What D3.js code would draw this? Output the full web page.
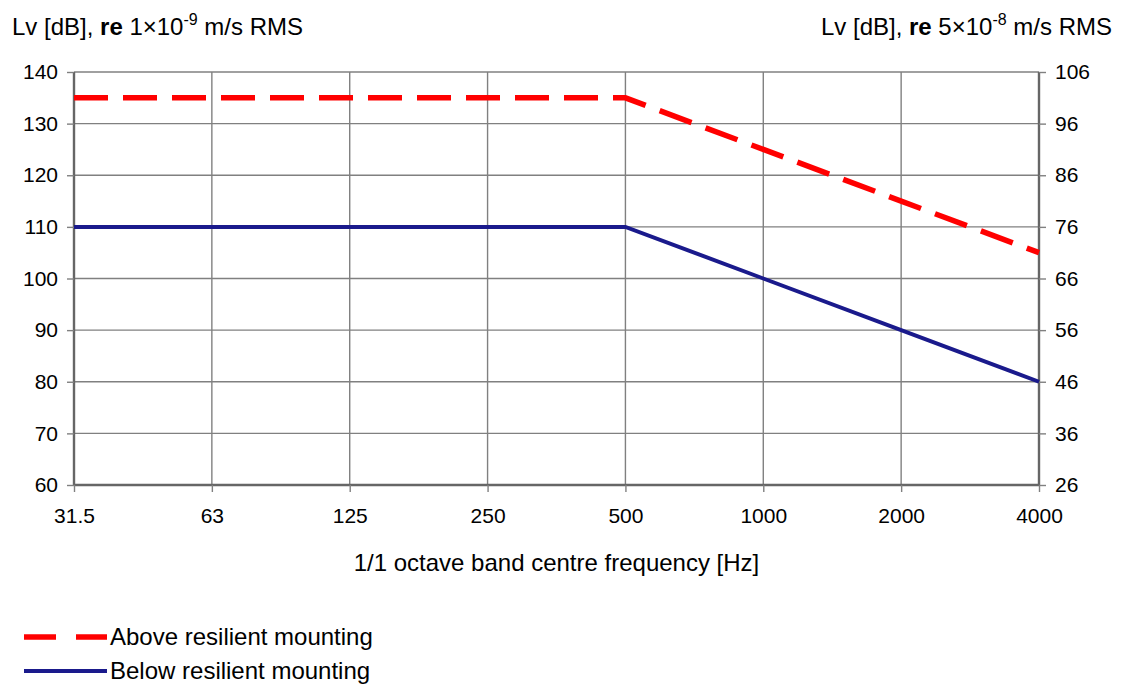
<!DOCTYPE html>
<html><head><meta charset="utf-8">
<script src="https://cdn.jsdelivr.net/npm/d3@7"></script>
<style>
body{margin:0;background:#fff;}
text{font-family:"Liberation Sans",Arial,sans-serif;fill:#000;}
</style></head>
<body><svg id="c" width="1128" height="689"></svg>
<script>
const categories = ["31.5","63","125","250","500","1000","2000","4000"];
const aboveValues = [135,135,135,135,135,125,115,105];
const belowValues = [110,110,110,110,110,100,90,80];
const leftTicks = [60,70,80,90,100,110,120,130,140];
const rightTicks = [26,36,46,56,66,76,86,96,106];
const seriesNames = ["Above resilient mounting","Below resilient mounting"];

const svg = d3.select("#c");
const L=74, R=1039, T=72, B=485;
const x = d3.scalePoint().domain(categories).range([L,R]);
const y = d3.scaleLinear().domain([60,140]).range([B,T]);
const y2 = d3.scaleLinear().domain([26,106]).range([B,T]);

// grid
svg.append("g").selectAll("line").data(leftTicks).join("line")
  .attr("x1",L).attr("x2",R).attr("y1",d=>y(d)).attr("y2",d=>y(d))
  .attr("stroke","#808080").attr("stroke-width",1.4);
svg.append("g").selectAll("line").data(categories).join("line")
  .attr("x1",d=>x(d)).attr("x2",d=>x(d)).attr("y1",T).attr("y2",B)
  .attr("stroke","#808080").attr("stroke-width",1.4);

// axes
const fs = "21px";
const ax = svg.append("g").attr("transform",`translate(${L},0)`)
  .call(d3.axisLeft(y).tickValues(leftTicks).tickSize(7).tickPadding(9));
const ax2 = svg.append("g").attr("transform",`translate(${R},0)`)
  .call(d3.axisRight(y2).tickValues(rightTicks).tickSize(7).tickPadding(9));
const axb = svg.append("g").attr("transform",`translate(0,${B})`)
  .call(d3.axisBottom(x).tickSize(7).tickPadding(16));
[ax,ax2,axb].forEach(g=>{
  g.selectAll("text").style("font-size",fs).attr("font-family","Liberation Sans, Arial, sans-serif");
  g.select(".domain").attr("stroke","#666").attr("stroke-width",2.4);
  g.selectAll(".tick line").attr("stroke","#808080").attr("stroke-width",1.4);
});
ax.select(".domain").attr("d",`M0,${T}V${B}`);
ax2.select(".domain").attr("d",`M0,${T}V${B}`);
axb.select(".domain").attr("d",`M${L},0H${R}`);

// lines
const line = d3.line().x((d,i)=>x(categories[i])).y(d=>y(d));
svg.append("path").datum(aboveValues).attr("d",line).attr("fill","none")
  .attr("stroke","#ff0000").attr("stroke-width",5.5).attr("stroke-dasharray","34,15");
svg.append("path").datum(belowValues).attr("d",line).attr("fill","none")
  .attr("stroke","#1a1a8c").attr("stroke-width",4);

// titles
const tfs = 24;
const t1 = svg.append("text").attr("x",12).attr("y",35).style("font-size",tfs+"px");
t1.append("tspan").text("Lv [dB], ");
t1.append("tspan").attr("font-weight","bold").text("re");
t1.append("tspan").text(" 1×10");
t1.append("tspan").attr("dy",-10).style("font-size","16px").text("-9");
t1.append("tspan").attr("dy",10).text(" m/s RMS");

const t2 = svg.append("text").attr("x",1112).attr("y",35).attr("text-anchor","end").style("font-size",tfs+"px");
t2.append("tspan").text("Lv [dB], ");
t2.append("tspan").attr("font-weight","bold").text("re");
t2.append("tspan").text(" 5×10");
t2.append("tspan").attr("dy",-10).style("font-size","16px").text("-8");
t2.append("tspan").attr("dy",10).text(" m/s RMS");

svg.append("text").attr("x",(L+R)/2).attr("y",571).attr("text-anchor","middle")
  .style("font-size",tfs+"px").text("1/1 octave band centre frequency [Hz]");

// legend
const lg = [{name:seriesNames[0],c:"#ff0000",w:5.5,dash:"32,20",y:637},
            {name:seriesNames[1],c:"#1a1a8c",w:4,dash:null,y:671}];
lg.forEach(d=>{
  svg.append("line").attr("x1",24).attr("x2",107).attr("y1",d.y).attr("y2",d.y)
    .attr("stroke",d.c).attr("stroke-width",d.w).attr("stroke-dasharray",d.dash);
  svg.append("text").attr("x",110).attr("y",d.y+8).style("font-size",tfs+"px").text(d.name);
});
</script></body></html>
